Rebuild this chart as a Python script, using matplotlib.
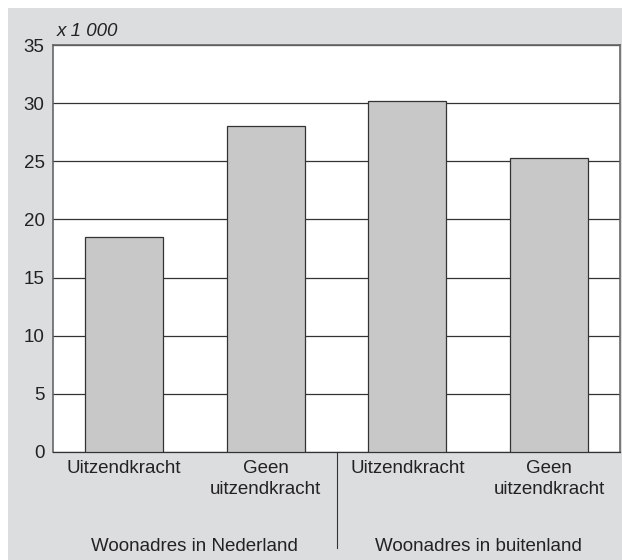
import matplotlib.pyplot as plt
from matplotlib.patches import Rectangle

plt.rcParams['font.family'] = ['Liberation Sans', 'DejaVu Sans']

categories = ['Uitzendkracht', 'Geen\nuitzendkracht', 'Uitzendkracht', 'Geen\nuitzendkracht']
values = [18.5, 28.0, 30.2, 25.3]
groups = ['Woonadres in Nederland', 'Woonadres in buitenland']
yticks = [0, 5, 10, 15, 20, 25, 30, 35]

grey_bg = '#dcdddf'
bar_col = '#c8c8c8'
line_col = '#333333'
fs = 13.5

fig = plt.figure(figsize=(6.22, 5.6), dpi=100)
fig.patch.set_facecolor('white')
# grey panel behind the chart
fig.add_artist(Rectangle((8 / 622, 0), 1 - 8 / 622, 1 - 8 / 560, transform=fig.transFigure,
                         facecolor=grey_bg, edgecolor='none', zorder=-5))

ax = fig.add_axes([53 / 622, (560 - 452) / 560, (620 - 53) / 622, (452 - 45) / 560])
ax.set_zorder(2)
ax.set_facecolor('white')

x = range(len(values))
ax.bar(x, values, width=0.55, color=bar_col, edgecolor=line_col, linewidth=0.9, zorder=3)

ax.set_xlim(-0.5, 3.5)
ax.set_ylim(0, 35)
ax.set_yticks(yticks)
ax.yaxis.grid(True, color=line_col, linewidth=0.9, zorder=0)
ax.set_axisbelow(True)
ax.tick_params(axis='y', length=0, pad=6, labelsize=fs, colors='#222222')
ax.set_xticks(list(x))
ax.set_xticklabels(categories, fontsize=fs, color='#222222', linespacing=1.3, va='top')
ax.tick_params(axis='x', length=0, pad=6)
for sp in ax.spines.values():
    sp.set_color('#666666')
    sp.set_linewidth(1.2)
ax.spines['bottom'].set_color(line_col)
ax.spines['bottom'].set_linewidth(0.9)

ax.text(0.006, 1.012, 'x 1 000', transform=ax.transAxes, fontsize=fs, style='italic',
        color='#222222', ha='left', va='bottom')

# group labels and separator
for i, g in enumerate(groups):
    ax.annotate(g, xy=(0.5 + 2 * i, 0), xycoords=('data', 'axes fraction'),
                xytext=(0, -74.5), textcoords='offset points', ha='center', va='bottom',
                fontsize=fs, color='#222222', annotation_clip=False)
ax.plot([1.5, 1.5], [0, -0.235], transform=ax.get_xaxis_transform(), color=line_col,
        linewidth=0.8, clip_on=False)

fig.savefig('out.png', dpi=100, facecolor=fig.get_facecolor())
